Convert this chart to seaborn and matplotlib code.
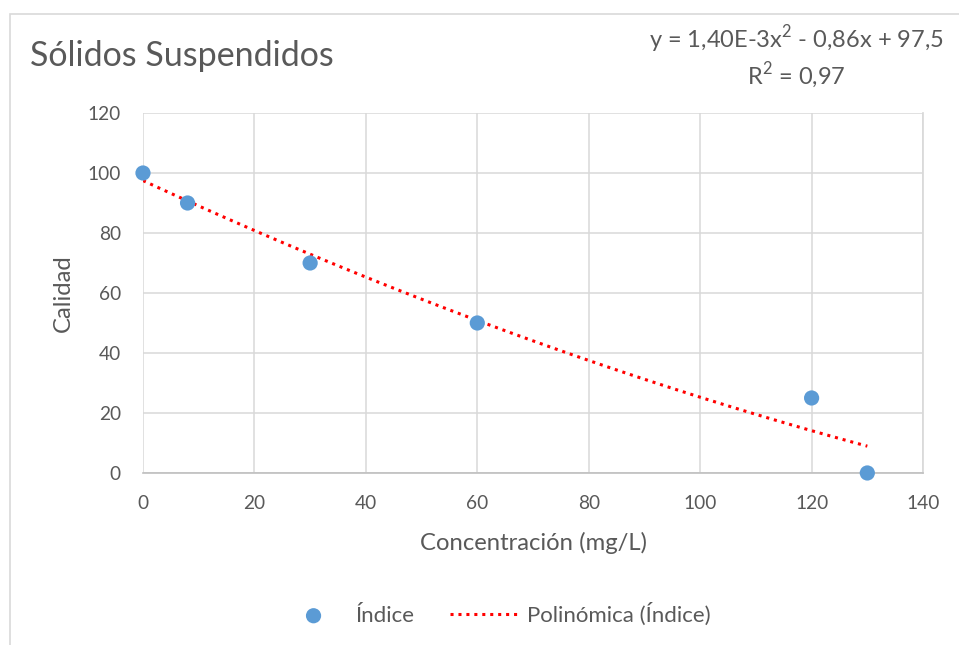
import numpy as np
import pandas as pd
import seaborn as sns
import matplotlib.pyplot as plt
from matplotlib.patches import Rectangle

# Data
concentracion = [0, 8, 30, 60, 120, 130]
calidad = [100, 90, 70, 50, 25, 0]
x_ticks = [0, 20, 40, 60, 80, 100, 120, 140]
y_ticks = [0, 20, 40, 60, 80, 100, 120]

titulo = "Sólidos Suspendidos"
ecuacion = "y = 1,40E-3x$^2$ - 0,86x + 97,5\nR$^2$ = 0,97"

df = pd.DataFrame({"x": concentracion, "y": calidad})

sns.set_theme(style="whitegrid")
plt.rcParams['font.family'] = ['Lato', 'DejaVu Sans']
plt.rcParams['mathtext.fontset'] = 'custom'
plt.rcParams['mathtext.rm'] = 'Lato'

grey_txt = "#595959"
grid_c = "#d9d9d9"

fig = plt.figure(figsize=(9.59, 6.45), dpi=100)
ax = fig.add_axes([0.1491, 0.2667, 0.9625 - 0.1491, 0.8248 - 0.2667])

# outer chart frame
fig.patches.append(Rectangle((10 / 959, -0.05), 1.1, 1 - 14 / 645 + 0.05,
                             transform=fig.transFigure, fill=False,
                             edgecolor=grid_c, linewidth=1.2, zorder=0))

# polynomial trend line (order 2 fitted on the data)
sns.regplot(data=df, x="x", y="y", order=2, ci=None, scatter=False, ax=ax,
            truncate=True, label="Polinómica (Índice)",
            line_kws=dict(color="red", linestyle=(0, (1, 1.6)), linewidth=2.2))
sns.scatterplot(data=df, x="x", y="y", ax=ax, color="#5B9BD5", s=120,
                edgecolor="none", label="Índice", zorder=5, clip_on=False)

ax.set_xlim(0, 140)
ax.set_ylim(0, 120)
ax.set_xticks(x_ticks)
ax.set_yticks(y_ticks)
ax.grid(True, color=grid_c, linewidth=1.1)
for side in ["top", "left"]:
    ax.spines[side].set_visible(False)
ax.spines["right"].set_color(grid_c)
ax.spines["bottom"].set_color("#bfbfbf")
ax.spines["bottom"].set_linewidth(1.2)
ax.tick_params(axis="both", labelsize=13.8, colors=grey_txt, length=0)
ax.tick_params(axis="x", pad=16)
ax.tick_params(axis="y", pad=16)

ax.set_xlabel("Concentración (mg/L)", fontsize=17.2, color=grey_txt, labelpad=14)
ax.set_ylabel("Calidad", fontsize=17.2, color=grey_txt, labelpad=10)

fig.text(30 / 959, 1 - 56 / 645, titulo, fontsize=24.5, color=grey_txt,
         ha="left", va="center")
fig.text(796 / 959, 1 - 57 / 645, ecuacion, fontsize=17, color=grey_txt,
         ha="center", va="center", linespacing=1.25)

handles, labels = ax.get_legend_handles_labels()
order = [labels.index("Índice"), labels.index("Polinómica (Índice)")]
leg = fig.legend([handles[i] for i in order], [labels[i] for i in order],
                 loc="center", bbox_to_anchor=(0.516, 1 - 614 / 645), ncol=2,
                 frameon=False, fontsize=16, columnspacing=1.6,
                 handletextpad=0.35, handlelength=3.1)
for t in leg.get_texts():
    t.set_color(grey_txt)
if ax.get_legend() is not None:
    ax.get_legend().remove()

fig.savefig("out.png", dpi=100, facecolor="white")
